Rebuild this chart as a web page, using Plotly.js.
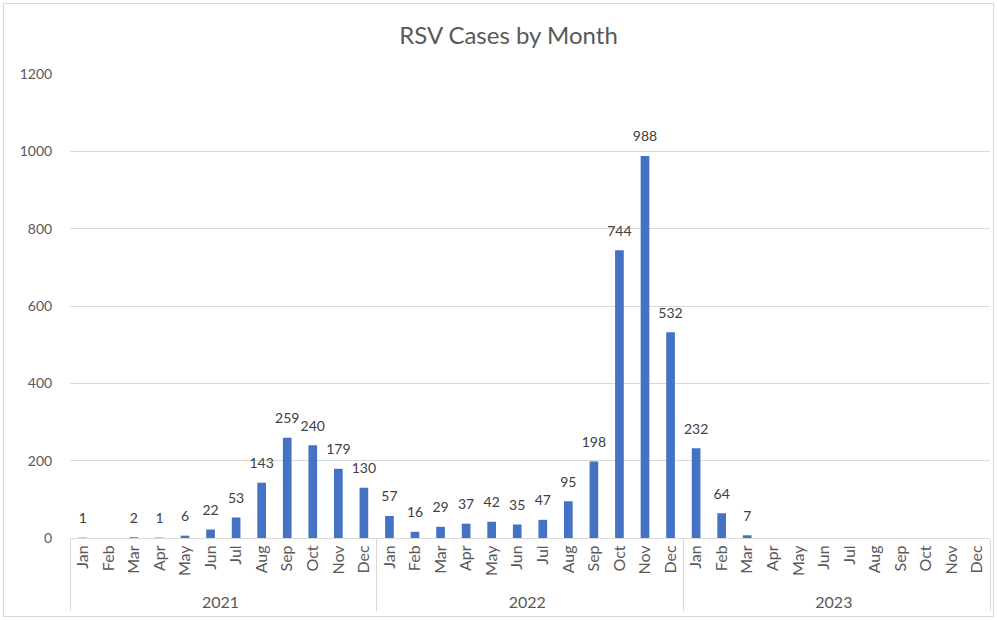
<!DOCTYPE html>
<html>
<head>
<meta charset="utf-8">
<script src="https://cdn.plot.ly/plotly-3.0.1.min.js"></script>
<style>
html,body{margin:0;padding:0;background:#fff;}
#wrap{position:absolute;left:3px;top:3px;width:989px;height:612px;border:1px solid #d9d9d9;}
#chart{position:absolute;left:0;top:0;width:997px;height:620px;}
</style>
</head>
<body>
<div id="wrap"></div>
<div id="chart"></div>
<script>
const years = ["2021", "2022", "2023"];
const months = ["Jan","Feb","Mar","Apr","May","Jun","Jul","Aug","Sep","Oct","Nov","Dec"];
const cases2021 = [1, null, 2, 1, 6, 22, 53, 143, 259, 240, 179, 130];
const cases2022 = [57, 16, 29, 37, 42, 35, 47, 95, 198, 744, 988, 532];
const cases2023 = [232, 64, 7, null, null, null, null, null, null, null, null, null];

const seriesByYear = [cases2021, cases2022, cases2023];
const xYear = [], xMonth = [], yVals = [];
years.forEach((yr, i) => {
  months.forEach((m, j) => {
    xYear.push(yr);
    xMonth.push(m);
    yVals.push(seriesByYear[i][j]);
  });
});

const FONT = 'Lato, "Open Sans", sans-serif';

const bars = {
  type: 'bar',
  x: [xYear, xMonth],
  y: yVals,
  marker: {color: '#4472C4'},
  hoverinfo: 'x+y'
};

const labels = {
  type: 'scatter',
  mode: 'markers+text',
  x: [xYear, xMonth],
  y: yVals,
  text: yVals.map(v => v === null ? '' : String(v)),
  textposition: 'top center',
  marker: {size: 16, color: 'rgba(0,0,0,0)'},
  cliponaxis: false,
  textfont: {family: FONT, size: 14, color: '#404040'},
  hoverinfo: 'skip'
};

const layout = {
  width: 997,
  height: 620,
  paper_bgcolor: 'rgba(0,0,0,0)',
  plot_bgcolor: 'rgba(0,0,0,0)',
  margin: {l: 70, r: 7, t: 74, b: 82},
  bargap: 0.66,
  showlegend: false,
  title: {
    text: 'RSV Cases by Month',
    x: 0.51, xanchor: 'center',
    y: 0.942, yanchor: 'middle',
    font: {family: FONT, size: 24, color: '#595959'}
  },
  font: {family: FONT, color: '#595959'},
  xaxis: {
    type: 'multicategory',
    range: [-0.5, xMonth.length - 0.5],
    tickangle: -90,
    tickfont: {family: FONT, size: 16, color: '#595959'},
    showline: true,
    linecolor: '#d9d9d9',
    linewidth: 1,
    ticks: '',
    showgrid: false,
    showdividers: true,
    dividercolor: '#d9d9d9',
    dividerwidth: 1,
    automargin: false
  },
  yaxis: {
    range: [0, 1200],
    dtick: 200,
    tick0: 0,
    showgrid: true,
    gridcolor: '#d9d9d9',
    gridwidth: 1,
    zeroline: false,
    showline: false,
    ticks: 'outside',
    ticklen: 14,
    tickcolor: 'rgba(0,0,0,0)',
    tickfont: {family: FONT, size: 14, color: '#595959'},
    automargin: false
  }
};

Plotly.newPlot('chart', [bars, labels], layout, {displayModeBar: false, staticPlot: true});
</script>
</body>
</html>
